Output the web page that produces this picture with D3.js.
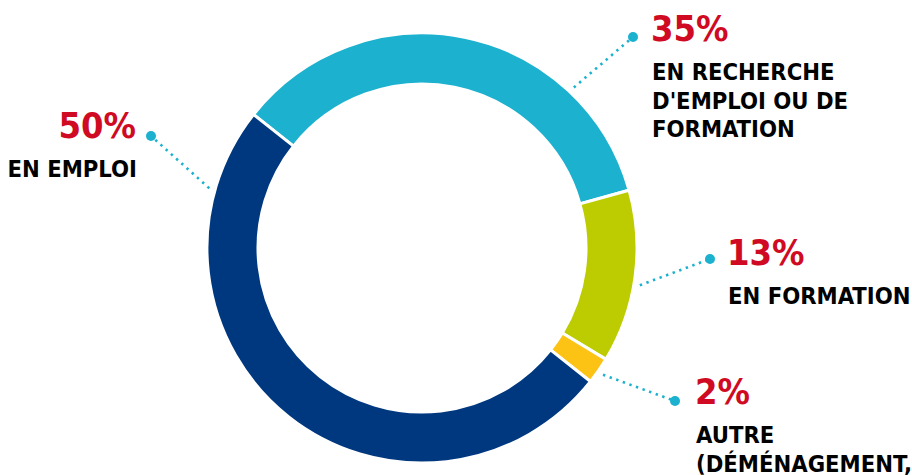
<!DOCTYPE html>
<html>
<head>
<meta charset="utf-8">
<script src="https://cdn.jsdelivr.net/npm/d3@7"></script>
<style>
  html, body { margin: 0; padding: 0; background: #fff; }
  svg { display: block; }
  text {
    font-family: "DejaVu Sans Condensed", "DejaVu Sans", sans-serif;
    font-stretch: condensed;
    font-weight: bold;
  }
</style>
</head>
<body>
<svg id="chart" width="912" height="475"></svg>
<script>
// Situation of respondents, in percent
const categories = ["recherche", "formation", "autre", "emploi"];
const values = [35, 13, 2, 50];
const valueLabels = ["35%", "13%", "2%", "50%"];
const captions = [
  ["EN RECHERCHE", "D'EMPLOI OU DE", "FORMATION"],
  ["EN FORMATION"],
  ["AUTRE", "(DÉMÉNAGEMENT,"],
  ["EN EMPLOI"]
];
const colors = ["#1bb1cf", "#bdcc00", "#fcc214", "#00387f"];

// Callout layout: angle (deg) where the leader leaves the ring, dot position, text anchor
const callouts = [
  { angle: 43.4,  dot: [633, 37],  text: [651, 41],  align: "start" },
  { angle: 99.7,  dot: [710, 259], text: [727, 265], align: "start" },
  { angle: 125,   dot: [675, 401], text: [695, 404], align: "start" },
  { angle: -74.3, dot: [151, 136], text: [136, 138], align: "end" }
];

const svg = d3.select("#chart");
const cx = 422, cy = 248, outerR = 215, innerR = 164;
const startAngle = -51.6 * Math.PI / 180;

const pie = d3.pie().sort(null).value(d => d)
  .startAngle(startAngle).endAngle(startAngle + 2 * Math.PI);
const arc = d3.arc().innerRadius(innerR).outerRadius(outerR);

const g = svg.append("g").attr("transform", `translate(${cx},${cy})`);
g.selectAll("path.slice")
  .data(pie(values))
  .join("path")
  .attr("class", "slice")
  .attr("d", arc)
  .attr("fill", (d, i) => colors[i])
  .attr("stroke", "#fff")
  .attr("stroke-width", 3)
  .attr("stroke-linejoin", "miter");

// Dotted leaders
const leaderR = outerR + 6;
const leaders = svg.append("g");
callouts.forEach((c, i) => {
  const a = c.angle * Math.PI / 180;
  const x0 = cx + leaderR * Math.sin(a);
  const y0 = cy - leaderR * Math.cos(a);
  leaders.append("line")
    .attr("x1", x0).attr("y1", y0)
    .attr("x2", c.dot[0]).attr("y2", c.dot[1])
    .attr("stroke", "#1bb1cf")
    .attr("stroke-width", 2.6)
    .attr("stroke-dasharray", "2.4 4.6");
  leaders.append("circle")
    .attr("cx", c.dot[0]).attr("cy", c.dot[1])
    .attr("r", 5)
    .attr("fill", "#1bb1cf");
});

// Value and caption text
const labels = svg.append("g");
callouts.forEach((c, i) => {
  labels.append("text")
    .attr("x", c.text[0]).attr("y", c.text[1])
    .attr("text-anchor", c.align)
    .attr("font-size", 36)
    .attr("fill", "#cf0a22")
    .text(valueLabels[i]);
  captions[i].forEach((line, j) => {
    labels.append("text")
      .attr("x", c.text[0] + 1)
      .attr("y", c.text[1] + 39 + j * 28.6)
      .attr("text-anchor", c.align)
      .attr("font-size", 23.6)
      .attr("fill", "#000")
      .text(line);
  });
});
</script>
</body>
</html>
